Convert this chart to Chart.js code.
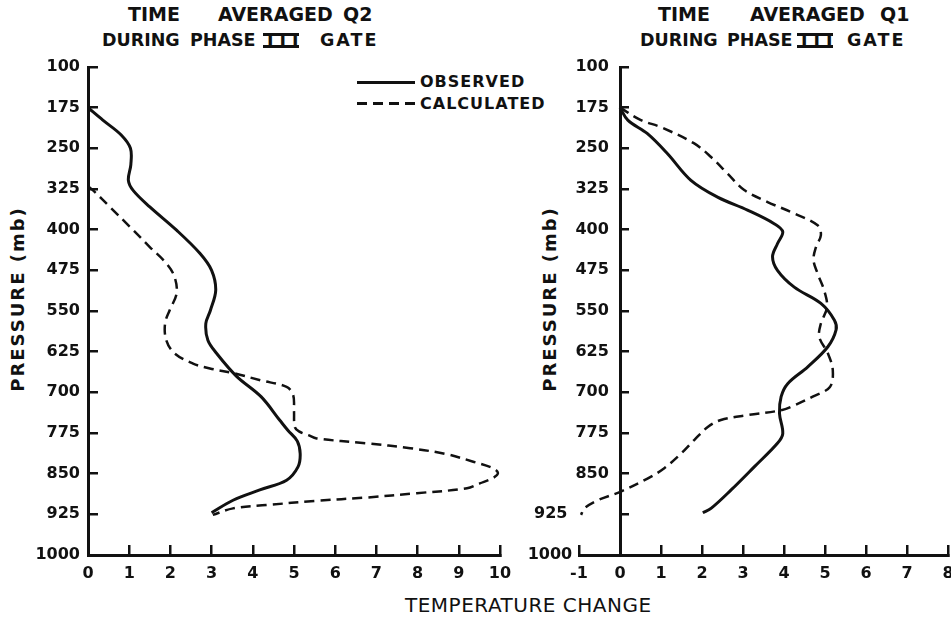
<!DOCTYPE html>
<html>
<head>
<title>Time averaged Q2 and Q1 during Phase III GATE</title>
<script src="https://cdn.jsdelivr.net/npm/chart.js"></script>
<style>
    body {
        margin: 0;
        width: 951px;
        height: 617px;
        position: relative;
        overflow: hidden;
        background: #fff;
        color: #111;
        font-family: 'DejaVu Sans', sans-serif;
    }
    canvas { position: absolute; top: 0; }
    #q2 { left: 0; }
    #q1 { left: 520px; }
    .t { position: absolute; font-size: 19px; font-weight: bold; line-height: 1; white-space: nowrap; }
    .t2 { position: absolute; font-size: 17.5px; font-weight: bold; line-height: 1; white-space: nowrap; top: 32px; }
    .roman { letter-spacing: 6px; }
    .wide { letter-spacing: 2px; }
    .bars { position: absolute; width: 36px; height: 15px; box-sizing: border-box; top: 33px;
            border-top: 3px solid #111; border-bottom: 3px solid #111; }
    .lg { position: absolute; font-size: 16px; font-weight: bold; line-height: 1; letter-spacing: 1px; white-space: nowrap; }
    .ax { position: absolute; font-size: 18px; font-weight: bold; line-height: 1; letter-spacing: 2px; white-space: nowrap;
          transform: translate(-50%, -50%) rotate(-90deg); }
    .solid { position: absolute; height: 3px; background: #111; }
    .dash { position: absolute; height: 3px; background: repeating-linear-gradient(90deg, #111 0 10px, transparent 10px 16px); }
</style>
</head>
<body>
    <!-- titles -->
    <div class="t" style="left:128px;top:5px">TIME</div>
    <div class="t" style="left:218px;top:5px">AVERAGED</div>
    <div class="t" style="left:343px;top:5px">Q2</div>
    <div class="t2" style="left:102px">DURING</div>
    <div class="t2" style="left:190px">PHASE</div>
    <div class="t2 roman" style="left:267px">III</div>
    <div class="bars" style="left:263px"></div>
    <div class="t2 wide" style="left:320px">GATE</div>

    <div class="t" style="left:658px;top:5px">TIME</div>
    <div class="t" style="left:750px;top:5px">AVERAGED</div>
    <div class="t" style="left:880px;top:5px">Q1</div>
    <div class="t2" style="left:640px">DURING</div>
    <div class="t2" style="left:727px">PHASE</div>
    <div class="t2 roman" style="left:801px">III</div>
    <div class="bars" style="left:797px"></div>
    <div class="t2 wide" style="left:847px">GATE</div>

    <!-- legend -->
    <div class="solid" style="left:357px;top:81px;width:58px"></div>
    <div class="lg" style="left:420px;top:74px">OBSERVED</div>
    <div class="dash" style="left:357px;top:102px;width:58px"></div>
    <div class="lg" style="left:420px;top:96px">CALCULATED</div>

    <div class="ax" style="left:18px;top:299px">PRESSURE (mb)</div>
    <div class="ax" style="left:550px;top:299px">PRESSURE (mb)</div>
    <div style="position:absolute;left:405px;top:595px;font-size:20px;line-height:1;letter-spacing:0.5px;white-space:nowrap">TEMPERATURE CHANGE</div>

    <canvas id="q2" width="520" height="617"></canvas>
    <canvas id="q1" width="431" height="617"></canvas>

<script>
    // pressure levels (mb) shared by both panels
    var pressureTicks = [100, 175, 250, 325, 400, 475, 550, 625, 700, 775, 850, 925, 1000];
    var q2Ticks = [0, 1, 2, 3, 4, 5, 6, 7, 8, 9, 10];
    var q1Ticks = [-1, 0, 1, 2, 3, 4, 5, 6, 7, 8];

    // Q2 observed
    var q2ObsP = [175, 198, 225, 250, 280, 309, 328, 358, 401, 444, 475, 512, 549, 573, 604, 628, 670, 708, 751, 770, 790, 813, 837, 862, 880, 899, 922];
    var q2ObsX = [0, 0.36, 0.8, 1.03, 1.04, 0.98, 1.1, 1.5, 2.15, 2.72, 3.0, 3.1, 2.97, 2.86, 2.91, 3.12, 3.6, 4.2, 4.65, 4.85, 5.08, 5.15, 5.1, 4.82, 4.17, 3.52, 3.0];
    // Q2 calculated
    var q2CalcP = [320, 328, 358, 395, 432, 462, 487, 518, 549, 573, 604, 628, 647, 656, 665, 678, 690, 705, 735, 764, 772, 779, 785, 794, 803, 814, 828, 840, 849, 858, 868, 877, 886, 894, 900, 908, 914, 926];
    var q2CalcX = [0, 0.13, 0.53, 1.02, 1.5, 1.9, 2.1, 2.15, 1.98, 1.87, 1.9, 2.1, 2.55, 2.96, 3.55, 4.2, 4.82, 4.98, 5.0, 5.02, 5.12, 5.35, 5.55, 6.76, 7.82, 8.7, 9.35, 9.83, 9.95, 9.83, 9.51, 9.2, 7.98, 6.76, 5.55, 4.33, 3.52, 3.03];

    // Q1 observed
    var q1ObsP = [175, 198, 223, 260, 309, 340, 364, 389, 404, 426, 450, 475, 506, 536, 567, 585, 616, 653, 684, 708, 739, 776, 794, 837, 880, 914, 922];
    var q1ObsX = [0, 0.19, 0.67, 1.16, 1.73, 2.38, 3.11, 3.76, 3.97, 3.84, 3.72, 3.84, 4.25, 4.9, 5.23, 5.27, 5.07, 4.58, 4.09, 3.93, 3.89, 3.97, 3.84, 3.28, 2.71, 2.22, 2.02];
    // Q1 calculated
    var q1CalcP = [175, 198, 211, 241, 266, 297, 327, 349, 370, 392, 410, 432, 456, 481, 512, 543, 573, 598, 628, 659, 690, 708, 724, 733, 742, 751, 764, 788, 813, 840, 859, 883, 899, 914, 926];
    var q1CalcX = [0, 0.51, 1.0, 1.81, 2.22, 2.63, 3.03, 3.6, 4.25, 4.82, 4.9, 4.78, 4.72, 4.82, 4.98, 5.05, 4.9, 4.86, 5.07, 5.19, 5.12, 4.7, 4.25, 3.93, 3.11, 2.46, 2.14, 1.81, 1.49, 1.08, 0.67, 0.02, -0.54, -0.87, -0.95];

    var ink = '#111';
    var tickFont = { family: 'DejaVu Sans', size: 16, weight: 'bold' };

    function pts(xs, ps) {
        return xs.map(function (x, i) { return { x: x, y: ps[i] }; });
    }

    function line(data, dashed) {
        return {
            data: data,
            showLine: true,
            borderColor: ink,
            borderWidth: dashed ? 2.5 : 3,
            borderDash: dashed ? [10, 6] : [],
            pointRadius: 0,
            tension: 0.35
        };
    }

    function profile(canvasId, xTicks, obs, calc, padding, yPosition, yLabel) {
        var axisLine = { display: true, color: ink, width: 3 };
        var inTicks = { drawOnChartArea: false, drawTicks: true, tickLength: -10, color: ink, lineWidth: 2.5 };
        return new Chart(document.getElementById(canvasId), {
            type: 'scatter',
            data: { datasets: [line(obs, false), line(calc, true)] },
            options: {
                responsive: false,
                animation: false,
                layout: { padding: padding },
                plugins: { legend: { display: false }, tooltip: { enabled: false } },
                scales: {
                    x: {
                        type: 'linear',
                        position: 'bottom',
                        min: xTicks[0],
                        max: xTicks[xTicks.length - 1],
                        afterBuildTicks: function (s) { s.ticks = xTicks.map(function (v) { return { value: v }; }); },
                        afterFit: function (s) { s.height = 62; s.paddingLeft = 0; s.paddingRight = 0; },
                        border: axisLine,
                        grid: inTicks,
                        ticks: { color: ink, font: tickFont, padding: 19, maxRotation: 0, autoSkip: false,
                                 callback: function (v) { return String(v); } }
                    },
                    y: {
                        type: 'linear',
                        position: yPosition,
                        reverse: true,
                        min: 100,
                        max: 1000,
                        afterBuildTicks: function (s) { s.ticks = pressureTicks.map(function (v) { return { value: v }; }); },
                        afterFit: function (s) { s.width = 88; },
                        border: axisLine,
                        grid: inTicks,
                        ticks: { color: ink, font: tickFont, padding: 18, autoSkip: false, callback: yLabel }
                    }
                }
            }
        });
    }

    profile('q2', q2Ticks, pts(q2ObsX, q2ObsP), pts(q2CalcX, q2CalcP),
        { left: 0, top: 67, right: 20, bottom: 0 }, 'left',
        function (v) { return String(v); });

    // right panel: pressure axis sits on the zero line; labels there get no padding,
    // so trailing spaces keep them off the axis (925 and 1000 sit further left)
    profile('q1', q1Ticks, pts(q1ObsX, q1ObsP), pts(q1CalcX, q1CalcP),
        { left: 59, top: 67, right: 3, bottom: 0 }, { x: 0 },
        function (v) {
            var gap = '\u2002\u2009';
            if (v === 925) return v + '\u2007\u2007\u2007\u2002' + gap;
            if (v === 1000) return v + '\u2007\u2007\u2007\u2009' + gap;
            return v + gap;
        });
</script>
</body>
</html>
